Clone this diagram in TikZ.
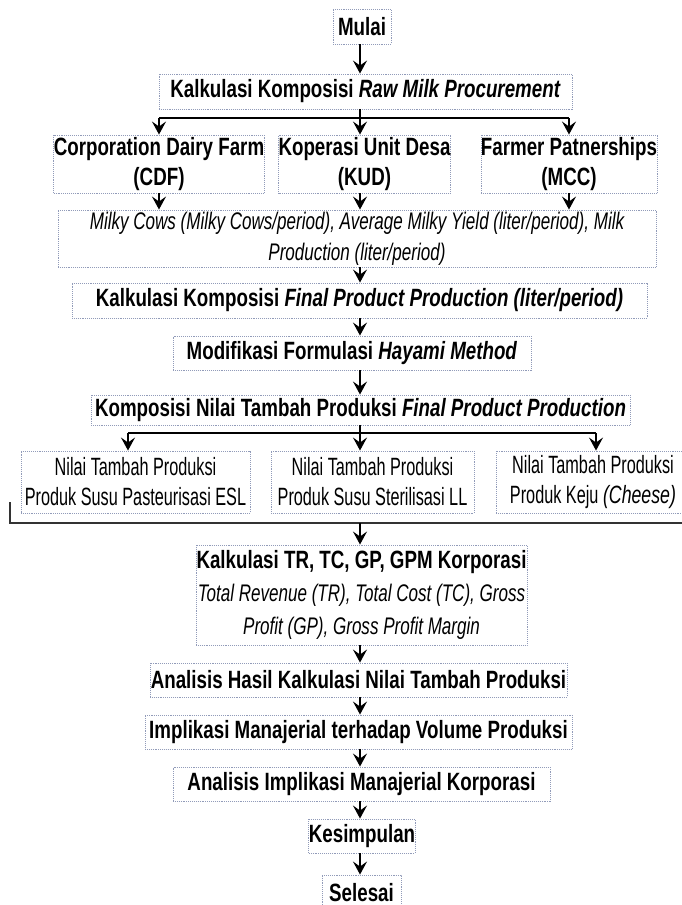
\documentclass[tikz,border=0pt]{standalone}
\usepackage{fontspec}
\setmainfont{Liberation Sans}
\newfontfamily\boldf{Liberation Sans}[FakeStretch=0.75]
\newfontfamily\regf{Liberation Sans}[FakeStretch=0.65]
\newfontfamily\itf{Liberation Sans}[FakeStretch=0.71]
\usepackage{tikz}
\usetikzlibrary{arrows.meta}
\definecolor{boxline}{RGB}{145,155,185}

\begin{document}
\begin{tikzpicture}[
  x=1pt, y=-1pt,
  box/.style={rectangle, draw=boxline, densely dotted, line width=0.9pt, fill=white, inner sep=0pt, align=center},
  stepbox/.style={box, font=\boldf\bfseries\fontsize{25}{30}\selectfont},
  notebox/.style={box, font=\regf\fontsize{25}{30}\selectfont},
  italbox/.style={box, font=\itf\itshape\fontsize{24}{31}\selectfont},
  arr/.style={-{Stealth[length=13pt,width=14pt,inset=5pt]}, line width=1.8pt},
  bar/.style={line width=1.4pt}
]
\fill[white] (0,0) rectangle (682,905);
\useasboundingbox (0,0) rectangle (682,905);
\coordinate (ax) at (360,0);

% Top: start and raw milk
\node[stepbox, minimum width=58, minimum height=35] (start) at (362,26.5) {Mulai};
\node[stepbox, minimum width=413, minimum height=35] (rawmilk) at (365.5,91.5) {Kalkulasi Komposisi \textit{Raw Milk Procurement}};

% Sources of raw milk
\node[stepbox, minimum width=204, minimum height=58] (cdf) at (159,164) {Corporation Dairy Farm\\(CDF)};
\node[stepbox, minimum width=163, minimum height=58] (kud) at (364.5,164) {Koperasi Unit Desa\\(KUD)};
\node[stepbox, minimum width=174, minimum height=58] (mcc) at (569,164) {Farmer Patnerships\\(MCC)};
\node[italbox, minimum width=598, minimum height=57] (milky) at (357,238.5) {Milky Cows (Milky Cows/period), Average Milky Yield (liter/period), Milk\\Production (liter/period)};

% Middle column
\node[stepbox, minimum width=575, minimum height=35] (finalprod) at (359.5,300.5) {Kalkulasi Komposisi \textit{Final Product Production (liter/period)}};
\node[stepbox, minimum width=358, minimum height=34] (hayami) at (352,353) {Modifikasi Formulasi \textit{Hayami Method}};
\node[stepbox, minimum width=539, minimum height=30] (komposisi) at (360.5,410) {Komposisi Nilai Tambah Produksi \textit{Final Product Production}};

% Value added per product
\node[notebox, minimum width=229, minimum height=62] (nt1) at (135.5,482) {Nilai Tambah Produksi\\Produk Susu Pasteurisasi ESL};
\node[notebox, minimum width=203, minimum height=62] (nt2) at (372.5,482) {Nilai Tambah Produksi\\Produk Susu Sterilisasi LL};
\node[notebox, minimum width=194, minimum height=62] (nt3) at (593,482) {Nilai Tambah Produksi\\Produk Keju {\itf\itshape (Cheese)}};

% Lower column
\node[box, minimum width=331, minimum height=100, font=\fontsize{25}{33}\selectfont] (tr) at (361.5,595)
  {{\boldf\bfseries Kalkulasi TR, TC, GP, GPM Korporasi}\\{\itf\itshape\fontsize{24}{33}\selectfont Total Revenue (TR), Total Cost (TC), Gross}\\{\itf\itshape\fontsize{24}{33}\selectfont Profit (GP), Gross Profit Margin}};
\node[stepbox, minimum width=417, minimum height=34] (hasil) at (358.5,680) {Analisis Hasil Kalkulasi Nilai Tambah Produksi};
\node[stepbox, minimum width=427, minimum height=34] (implikasi) at (358.5,732) {Implikasi Manajerial terhadap Volume Produksi};
\node[stepbox, minimum width=377, minimum height=34] (analisis) at (361.5,784) {Analisis Implikasi Manajerial Korporasi};
\node[stepbox, minimum width=106, minimum height=34] (kesimpulan) at (362,836) {Kesimpulan};
\node[stepbox, minimum width=79, minimum height=35] (selesai) at (361.5,892.5) {Selesai};

% Arrows: first split
\coordinate (sp1) at (360,118);
\draw[arr] (start.south -| ax) -- (rawmilk.north -| ax);
\draw[bar] (cdf.north |- sp1) -- (mcc.north |- sp1);
\draw[arr] (rawmilk.south -| ax) -- (kud.north -| ax);
\draw[arr] (cdf.north |- sp1) -- (cdf.north);
\draw[arr] (mcc.north |- sp1) -- (mcc.north);
\draw[arr] (cdf.south) -- (cdf.south |- milky.north);
\draw[arr] (kud.south -| ax) -- (milky.north -| ax);
\draw[arr] (mcc.south) -- (mcc.south |- milky.north);

% Arrows: main column
\draw[arr] (milky.south -| ax) -- (finalprod.north -| ax);
\draw[arr] (finalprod.south -| ax) -- (hayami.north -| ax);
\draw[arr] (hayami.south -| ax) -- (komposisi.north -| ax);

% Arrows: second split
\coordinate (a1) at (128,433);
\coordinate (a3) at (596,433);
\draw[bar] (a1) -- (a3);
\draw[arr] (komposisi.south -| ax) -- (nt2.north -| ax);
\draw[arr] (a1) -- (a1 |- nt1.north);
\draw[arr] (a3) -- (a3 |- nt3.north);

% Bracket joining the products
\coordinate (bl) at (10,502);
\coordinate (br) at (690,523);
\draw[bar, black!80] (bl) -- (bl |- br) -- (br);
\draw[arr] (br -| ax) -- (tr.north -| ax);

% Arrows: to the end
\draw[arr] (tr.south -| ax) -- (hasil.north -| ax);
\draw[arr] (hasil.south -| ax) -- (implikasi.north -| ax);
\draw[arr] (implikasi.south -| ax) -- (analisis.north -| ax);
\draw[arr] (analisis.south -| ax) -- (kesimpulan.north -| ax);
\draw[arr] (kesimpulan.south -| ax) -- (selesai.north -| ax);
\end{tikzpicture}
\end{document}
